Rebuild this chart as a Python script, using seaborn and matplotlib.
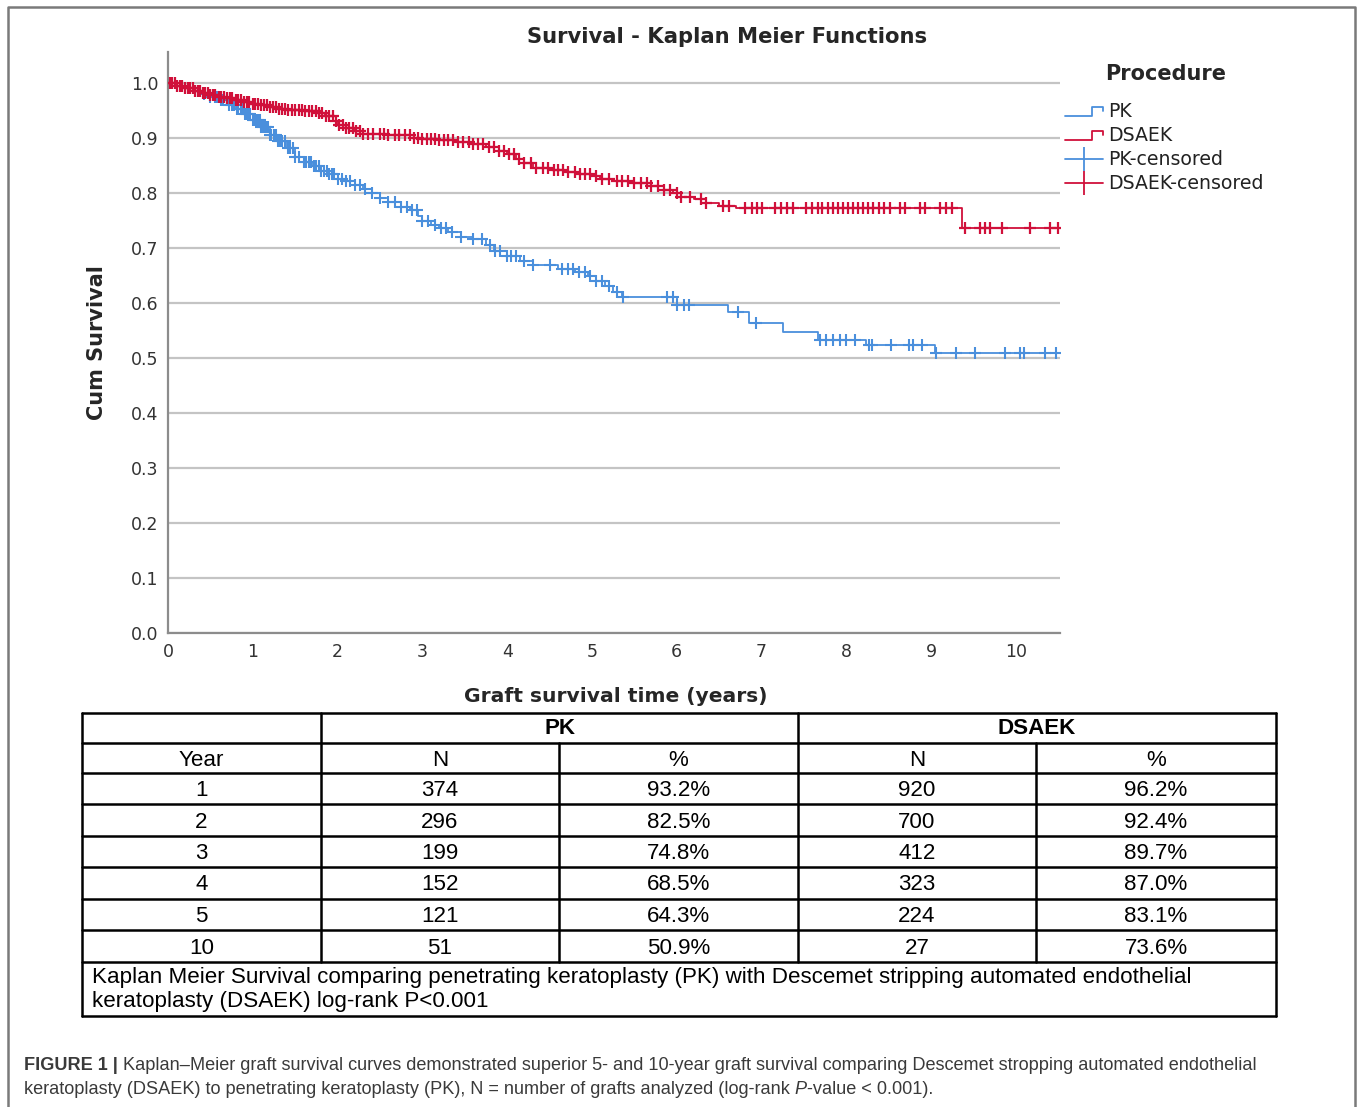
import numpy as np
import seaborn as sns
import matplotlib.pyplot as plt
from matplotlib.lines import Line2D
from matplotlib.legend_handler import HandlerBase

# Kaplan-Meier steps: time (years) and cumulative survival after each step
pk_time = [0.0, 0.1, 0.2, 0.3, 0.4, 0.5, 0.6, 0.7, 0.8, 0.9, 1.0, 1.1, 1.2, 1.3, 1.4, 1.5,
           1.6, 1.7, 1.8, 1.9, 2.0, 2.1, 2.2, 2.3, 2.4, 2.5, 2.6, 2.75, 2.85, 2.95, 3.0, 3.1,
           3.2, 3.3, 3.45, 3.6, 3.75, 3.85, 4.0, 4.15, 4.3, 4.6, 4.8, 4.95, 5.05, 5.15, 5.25,
           5.35, 6.0, 6.6, 6.85, 7.25, 7.67, 8.23, 9.04, 10.5]
pk_surv = [1.0, 0.995, 0.99, 0.985, 0.98, 0.975, 0.968, 0.96, 0.952, 0.943, 0.932, 0.92,
           0.906, 0.895, 0.882, 0.866, 0.856, 0.848, 0.84, 0.834, 0.826, 0.822, 0.815, 0.807,
           0.8, 0.79, 0.783, 0.775, 0.768, 0.758, 0.748, 0.742, 0.736, 0.728, 0.72, 0.716,
           0.705, 0.695, 0.685, 0.676, 0.668, 0.662, 0.656, 0.648, 0.64, 0.63, 0.62, 0.611,
           0.596, 0.584, 0.563, 0.547, 0.533, 0.524, 0.509, 0.509]

dsaek_time = [0.0, 0.1, 0.2, 0.3, 0.4, 0.5, 0.6, 0.7, 0.8, 0.9, 1.0, 1.1, 1.2, 1.3, 1.4, 1.6,
              1.75, 1.85, 1.95, 2.0, 2.1, 2.2, 2.3, 2.6, 2.9, 3.0, 3.2, 3.4, 3.6, 3.75, 3.9,
              4.0, 4.1, 4.2, 4.3, 4.5, 4.7, 4.85, 5.0, 5.1, 5.25, 5.45, 5.7, 5.85, 5.95, 6.05,
              6.2, 6.35, 6.5, 6.7, 9.36, 10.5]
dsaek_surv = [1.0, 0.995, 0.99, 0.986, 0.982, 0.978, 0.975, 0.972, 0.969, 0.966, 0.962,
              0.959, 0.956, 0.953, 0.951, 0.949, 0.946, 0.94, 0.93, 0.924, 0.918, 0.912,
              0.907, 0.905, 0.9, 0.897, 0.896, 0.893, 0.889, 0.883, 0.876, 0.87, 0.862,
              0.854, 0.846, 0.842, 0.838, 0.834, 0.831, 0.826, 0.821, 0.818, 0.812, 0.806,
              0.8, 0.793, 0.788, 0.782, 0.777, 0.773, 0.736, 0.736]

pk_censored = [0.35, 0.42, 0.5, 0.55, 0.58, 0.62, 0.65, 0.69, 0.72, 0.75, 0.78, 0.81, 0.83,
               0.86, 0.88, 0.91, 0.93, 0.95, 0.97, 1.0, 1.02, 1.04, 1.06, 1.08, 1.1, 1.12,
               1.14, 1.16, 1.18, 1.2, 1.22, 1.25, 1.27, 1.3, 1.32, 1.35, 1.38, 1.41, 1.44,
               1.47, 1.5, 1.55, 1.6, 1.63, 1.66, 1.69, 1.72, 1.75, 1.78, 1.81, 1.84, 1.87,
               1.9, 1.93, 1.96, 2.0, 2.05, 2.1, 2.15, 2.2, 2.26, 2.32, 2.4, 2.5, 2.6, 2.68,
               2.75, 2.82, 2.88, 2.94, 3.0, 3.07, 3.15, 3.22, 3.28, 3.35, 3.45, 3.6, 3.7,
               3.8, 3.86, 3.92, 4.0, 4.05, 4.1, 4.2, 4.3, 4.5, 4.65, 4.72, 4.78, 4.85, 4.92,
               4.98, 5.05, 5.12, 5.2, 5.3, 5.36, 5.88, 5.95, 6.0, 6.08, 6.14, 6.72, 6.93,
               7.69, 7.76, 7.84, 7.92, 8.0, 8.1, 8.27, 8.3, 8.53, 8.74, 8.79, 8.89, 9.06,
               9.29, 9.52, 9.87, 10.05, 10.1, 10.34, 10.47]
dsaek_censored = [0.02, 0.05, 0.08, 0.11, 0.14, 0.17, 0.2, 0.23, 0.26, 0.29, 0.32, 0.35,
                  0.38, 0.41, 0.44, 0.47, 0.5, 0.53, 0.56, 0.6, 0.63, 0.66, 0.7, 0.73, 0.76,
                  0.8, 0.83, 0.86, 0.9, 0.93, 0.96, 1.0, 1.03, 1.06, 1.1, 1.13, 1.17, 1.2,
                  1.24, 1.27, 1.31, 1.35, 1.38, 1.42, 1.46, 1.5, 1.54, 1.58, 1.62, 1.66, 1.7,
                  1.74, 1.78, 1.82, 1.86, 1.9, 1.94, 1.98, 2.02, 2.06, 2.1, 2.14, 2.18, 2.22,
                  2.27, 2.3, 2.36, 2.42, 2.5, 2.55, 2.6, 2.68, 2.72, 2.8, 2.85, 2.9, 2.95,
                  3.0, 3.05, 3.1, 3.15, 3.2, 3.25, 3.3, 3.36, 3.42, 3.48, 3.55, 3.6, 3.66,
                  3.72, 3.78, 3.84, 3.9, 3.96, 4.02, 4.08, 4.14, 4.2, 4.28, 4.34, 4.42, 4.48,
                  4.55, 4.6, 4.66, 4.72, 4.8, 4.86, 4.92, 4.98, 5.05, 5.12, 5.2, 5.3, 5.35,
                  5.42, 5.5, 5.58, 5.65, 5.7, 5.78, 5.85, 5.92, 6.0, 6.05, 6.15, 6.28, 6.35,
                  6.55, 6.62, 6.8, 6.89, 6.95, 7.0, 7.16, 7.23, 7.3, 7.37, 7.52, 7.59, 7.67,
                  7.71, 7.78, 7.84, 7.9, 7.96, 8.02, 8.08, 8.14, 8.2, 8.25, 8.31, 8.38, 8.44,
                  8.51, 8.63, 8.69, 8.87, 8.93, 9.1, 9.17, 9.25, 9.4, 9.58, 9.63, 9.69, 9.83,
                  10.17, 10.4, 10.5]

x_ticks = [0, 1, 2, 3, 4, 5, 6, 7, 8, 9, 10]
y_ticks = [0.0, 0.1, 0.2, 0.3, 0.4, 0.5, 0.6, 0.7, 0.8, 0.9, 1.0]

# table under the plot
table_years = ['1', '2', '3', '4', '5', '10']
pk_n = ['374', '296', '199', '152', '121', '51']
pk_pct = ['93.2%', '82.5%', '74.8%', '68.5%', '64.3%', '50.9%']
dsaek_n = ['920', '700', '412', '323', '224', '27']
dsaek_pct = ['96.2%', '92.4%', '89.7%', '87.0%', '83.1%', '73.6%']

BLUE = '#4a8fdc'
RED = '#d0103a'
W, H = 1357, 1107


def surv_at(times, surv, t):
    idx = np.searchsorted(times, t, side='right') - 1
    return np.asarray(surv)[idx]


class StepHandler(HandlerBase):
    def create_artists(self, legend, orig_handle, xdescent, ydescent, width, height, fontsize, trans):
        x0, y0 = -xdescent, -ydescent
        xs = [x0, x0 + width * 0.7, x0 + width * 0.7, x0 + width, x0 + width]
        ys = [y0 + height * 0.1, y0 + height * 0.1, y0 + height * 0.8, y0 + height * 0.8, y0 + height * 0.45]
        return [Line2D(xs, ys, color=orig_handle.get_color(), lw=1.3, transform=trans)]


sns.set_style('white')
plt.rcParams['font.family'] = ['DejaVu Sans']

fig = plt.figure(figsize=(W / 100, H / 100), dpi=100)

# pixel overlay for frame, table and caption
ov = fig.add_axes([0, 0, 1, 1], zorder=0)
ov.set_xlim(0, W)
ov.set_ylim(H, 0)
ov.axis('off')

ax = fig.add_axes([168 / W, 1 - 633 / H, 892 / W, 581 / H], zorder=2)
ax.patch.set_alpha(0)

sns.lineplot(x=pk_time, y=pk_surv, drawstyle='steps-post', color=BLUE, lw=1.3, ax=ax, estimator=None, sort=False)
sns.lineplot(x=dsaek_time, y=dsaek_surv, drawstyle='steps-post', color=RED, lw=1.3, ax=ax, estimator=None, sort=False)
sns.scatterplot(x=pk_censored, y=surv_at(pk_time, pk_surv, pk_censored), marker='+', s=80,
                color=BLUE, linewidth=1.5, ax=ax, zorder=3)
sns.scatterplot(x=dsaek_censored, y=surv_at(dsaek_time, dsaek_surv, dsaek_censored), marker='+', s=80,
                color=RED, linewidth=1.6, ax=ax, zorder=4)

ax.set_xlim(0, 892 / 84.8)
ax.set_ylim(0, 1.056)
ax.set_xticks(x_ticks)
ax.set_yticks(y_ticks)
ax.set_yticklabels([f'{v:.1f}' for v in y_ticks])
ax.tick_params(length=0, labelsize=12.5, labelcolor='#333333', pad=7)
ax.yaxis.grid(True, color='#c4c4c4', lw=1.6)
ax.set_axisbelow(True)
for side in ['top', 'right']:
    ax.spines[side].set_visible(False)
for side in ['left', 'bottom']:
    ax.spines[side].set_color('#8c8c8c')
    ax.spines[side].set_linewidth(1.6)
ax.set_xlabel('')
ax.set_ylabel('')

fig.text(727 / W, 1 - 37 / H, 'Survival - Kaplan Meier Functions', ha='center', va='center',
         fontsize=15.2, fontweight='bold')
fig.text(97 / W, 1 - 343 / H, 'Cum Survival', ha='center', va='center', rotation=90,
         fontsize=15, fontweight='bold')
fig.text(616 / W, 1 - 696 / H, 'Graft survival time (years)', ha='center', va='center',
         fontsize=14.6, fontweight='bold')

# legend: title placed on its own, entries below it
fig.text(1166 / W, 1 - 74 / H, 'Procedure', ha='center', va='center', fontsize=15, fontweight='bold')
handles = [Line2D([0], [0], color=BLUE), Line2D([0], [0], color=RED),
           Line2D([0], [0], color=BLUE, lw=1.3, marker='|', markersize=17, markeredgewidth=1.3),
           Line2D([0], [0], color=RED, lw=1.3, marker='|', markersize=17, markeredgewidth=1.3)]
leg = ax.legend(handles, ['PK', 'DSAEK', 'PK-censored', 'DSAEK-censored'],
                loc='upper left', bbox_to_anchor=(1056 / W, 1 - 93 / H), bbox_transform=fig.transFigure,
                frameon=False, fontsize=13.6, handlelength=2.0, handletextpad=0.25,
                labelspacing=0.26, borderpad=0, numpoints=1,
                handler_map={handles[0]: StepHandler(), handles[1]: StepHandler()})
for t in leg.get_texts():
    t.set_color('#222222')

# outer frame of the figure panel
ov.plot([8, 8, 1355, 1355], [H, 7, 7, H], color='#7a7a7a', lw=1.8)

# table grid
cols = [82, 321, 559, 798, 1036, 1276]
rows = [713, 743, 773, 804, 836, 867, 899, 930, 962, 1016]
lk = dict(color='black', lw=1.8)
for y in rows:
    ov.plot([cols[0], cols[-1]], [y, y], **lk)
for x in [cols[0], cols[-1]]:
    ov.plot([x, x], [rows[0], rows[-1]], **lk)
for x in [cols[1], cols[3]]:
    ov.plot([x, x], [rows[0], rows[8]], **lk)
for x in [cols[2], cols[4]]:
    ov.plot([x, x], [rows[1], rows[8]], **lk)

tk = dict(family=['Liberation Sans', 'DejaVu Sans'], fontsize=16.1, ha='center', va='center', color='black')
ov.text((cols[1] + cols[3]) / 2, (rows[0] + rows[1]) / 2 + 1, 'PK', fontweight='bold', **tk)
ov.text((cols[3] + cols[5]) / 2, (rows[0] + rows[1]) / 2 + 1, 'DSAEK', fontweight='bold', **tk)
for i, head in enumerate(['Year', 'N', '%', 'N', '%']):
    ov.text((cols[i] + cols[i + 1]) / 2, (rows[1] + rows[2]) / 2 + 2, head, **tk)
for r in range(len(table_years)):
    yc = (rows[r + 2] + rows[r + 3]) / 2 + 2
    for i, val in enumerate([table_years[r], pk_n[r], pk_pct[r], dsaek_n[r], dsaek_pct[r]]):
        ov.text((cols[i] + cols[i + 1]) / 2, yc, val, **tk)
fk = dict(tk, ha='left')
ov.text(92, 977, 'Kaplan Meier Survival comparing penetrating keratoplasty (PK) with Descemet stripping automated endothelial', **fk)
ov.text(92, 1002, 'keratoplasty (DSAEK) log-rank P<0.001', **fk)

# figure caption, written in pieces so the bold and italic parts line up
fig.canvas.draw()
renderer = fig.canvas.get_renderer()
ck = dict(family=['Liberation Sans', 'DejaVu Sans'], fontsize=13.1, va='center', ha='left', color='#3a3a3a')


def write_pieces(x, y, pieces):
    for txt, style in pieces:
        t = ov.text(x, y, txt, **ck, **style)
        bb = t.get_window_extent(renderer)
        x += bb.width


write_pieces(24, 1066, [('FIGURE 1 | ', {'fontweight': 'bold'}),
                        ('Kaplan\u2013Meier graft survival curves demonstrated superior 5- and 10-year graft survival '
                         'comparing Descemet stropping automated endothelial', {})])
write_pieces(24, 1090, [('keratoplasty (DSAEK) to penetrating keratoplasty (PK), N = number of grafts analyzed (log-rank ', {}),
                        ('P', {'fontstyle': 'italic'}),
                        ('-value < 0.001).', {})])

fig.savefig('out.png', dpi=100)
